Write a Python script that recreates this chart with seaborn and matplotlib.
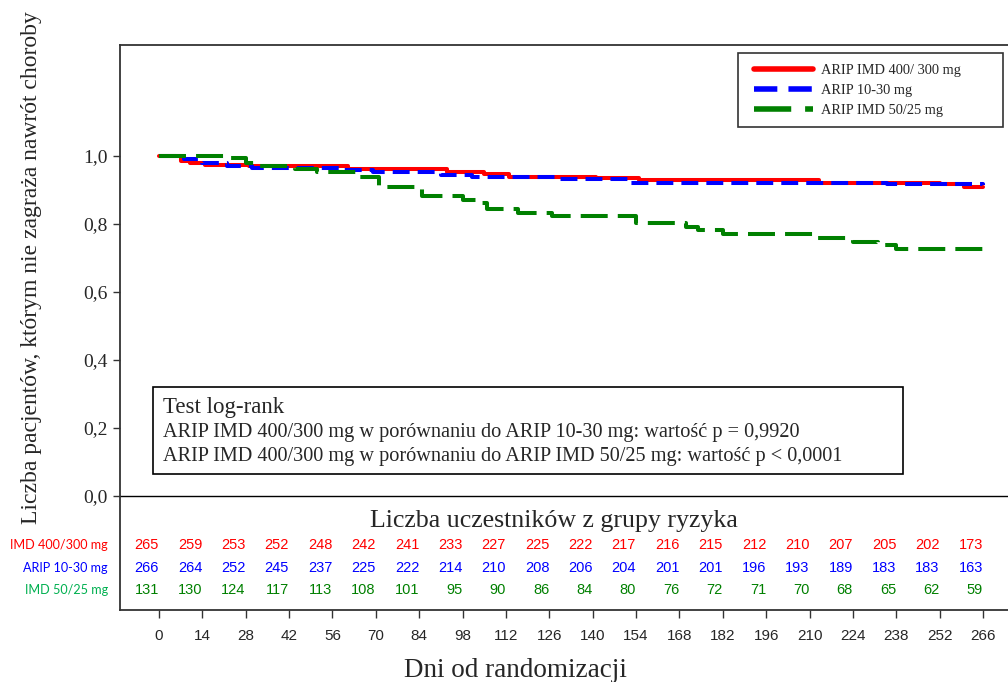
import numpy as np
import pandas as pd
import matplotlib
matplotlib.use("Agg")
import matplotlib.pyplot as plt
from matplotlib.patches import Rectangle
import seaborn as sns

# Kaplan-Meier steps (day, fraction still without relapse)
red_days = [0, 7, 10, 15, 29, 61, 93, 105, 113, 141, 155, 213, 252, 260, 266]
red_surv = [1.0, 0.985, 0.979, 0.974, 0.970, 0.961, 0.954, 0.947, 0.939, 0.936, 0.929, 0.921, 0.918, 0.908, 0.908]

blue_days = [0, 8, 14, 22, 30, 58, 69, 91, 101, 128, 152, 235, 266]
blue_surv = [1.0, 0.990, 0.978, 0.971, 0.966, 0.959, 0.952, 0.944, 0.937, 0.931, 0.922, 0.918, 0.915]

green_days = [0, 21, 28, 32, 44, 51, 64, 71, 85, 98, 104, 106, 116, 127, 154, 170, 174, 182, 211, 224, 232, 238, 266]
green_surv = [1.0, 0.995, 0.980, 0.971, 0.961, 0.952, 0.937, 0.908, 0.882, 0.871, 0.863, 0.843, 0.833, 0.824,
              0.802, 0.790, 0.782, 0.770, 0.760, 0.748, 0.737, 0.726, 0.726]

groups = ["ARIP IMD 400/ 300 mg", "ARIP 10-30 mg", "ARIP IMD 50/25 mg"]
line_colors = ["#ff0000", "#0000ff", "#008000"]

# number at risk table
risk_days = [0, 14, 28, 42, 56, 70, 84, 98, 112, 126, 140, 154, 168, 182, 196, 210, 224, 238, 252, 266]
risk_labels = ["IMD 400/300 mg", "ARIP 10-30 mg", "IMD 50/25 mg"]
risk_label_colors = ["#ff0000", "#0000ff", "#00b050"]
risk_red = [265, 259, 253, 252, 248, 242, 241, 233, 227, 225, 222, 217, 216, 215, 212, 210, 207, 205, 202, 173]
risk_blue = [266, 264, 252, 245, 237, 225, 222, 214, 210, 208, 206, 204, 201, 201, 196, 193, 189, 183, 183, 163]
risk_green = [131, 130, 124, 117, 113, 108, 101, 95, 90, 86, 84, 80, 76, 72, 71, 70, 68, 65, 62, 59]

y_ticks = [0.0, 0.2, 0.4, 0.6, 0.8, 1.0]

logrank_lines = [
    "ARIP IMD 400/300 mg w porównaniu do ARIP 10-30 mg: wartość p = 0,9920",
    "ARIP IMD 400/300 mg w porównaniu do ARIP IMD 50/25 mg: wartość p < 0,0001",
]

W, H = 1008, 682


def px(x, y):
    # pixel position (from top-left) -> figure fraction
    return x / W, 1 - y / H


sns.set_theme(style="white")
plt.rcParams["font.family"] = ["Liberation Serif", "DejaVu Serif"]
narrow = ["Liberation Sans Narrow", "Liberation Sans", "DejaVu Sans"]

df = pd.concat([
    pd.DataFrame({"day": red_days, "surv": red_surv, "group": groups[0]}),
    pd.DataFrame({"day": blue_days, "surv": blue_surv, "group": groups[1]}),
    pd.DataFrame({"day": green_days, "surv": green_surv, "group": groups[2]}),
])

fig = plt.figure(figsize=(W / 100, H / 100), dpi=100)
ax = fig.add_axes([120 / W, 1 - 610 / H, 1 - 120 / W, (610 - 45) / H])

sns.lineplot(data=df, x="day", y="surv", hue="group", style="group",
             hue_order=groups, style_order=groups,
             palette=dict(zip(groups, line_colors)),
             dashes={groups[0]: "", groups[1]: (4.2, 2.0), groups[2]: (6.7, 2.5)},
             estimator=None, drawstyle="steps-post", linewidth=2.9, ax=ax)

ax.axhline(0, color="black", lw=1)
ax.set_xlim(-12.59, 274.05)
ax.set_ylim(-0.3353, 1.3265)

ax.set_yticks(y_ticks)
ax.set_yticklabels([f"{v:.1f}".replace(".", ",") for v in y_ticks], fontsize=14)
ax.set_xticks(risk_days)
ax.set_xticklabels([str(d) for d in risk_days], fontsize=11, family=narrow)
ax.tick_params(axis="y", direction="out", length=5, width=1, color="#333333", left=True, pad=4)
ax.tick_params(axis="x", direction="out", length=6, width=1, color="#333333", bottom=True, pad=8)
ax.set_xlabel("")
ax.set_ylabel("")

for side in ["left", "top", "bottom"]:
    ax.spines[side].set_color("#333333")
    ax.spines[side].set_linewidth(1.3)
ax.spines["right"].set_visible(False)

fig.text(*px(515, 677), "Dni od randomizacji", fontsize=19.5, ha="center", va="baseline")
fig.text(*px(32, 268), "Liczba pacjentów, którym nie zagraża nawrót choroby", fontsize=17,
         rotation=90, ha="center", va="center")

# legend: lines without frame, box drawn separately
handles, labels = ax.get_legend_handles_labels()
for h in handles:
    h.set_linewidth(4)
leg = ax.legend(handles, labels, loc="upper left", bbox_to_anchor=px(742, 52),
                bbox_transform=fig.transFigure, fontsize=10.4, handlelength=4.1, handletextpad=0.6,
                labelspacing=0.5, borderpad=0.3, frameon=False)
fig.patches.append(Rectangle(px(738, 127), 265 / W, 74 / H, transform=fig.transFigure,
                             fill=False, edgecolor="#333333", linewidth=1.2))

# at-risk table
fig.text(*px(554, 527), "Liczba uczestników z grupy ryzyka", fontsize=18.6, ha="center", va="baseline")
row_y = [-0.144, -0.212, -0.276]
for vals, y, col in zip([risk_red, risk_blue, risk_green], row_y, line_colors):
    for d, n in zip(risk_days, vals):
        ax.text(d, y, str(n), color=col, fontsize=10.5, family=narrow, ha="right", va="center")
for lab, y, col in zip(risk_labels, row_y, risk_label_colors):
    fig.text(*px(108, 496 - y * 340), lab, color=col, fontsize=9.1,
             family=["Lato", "DejaVu Sans"], ha="right", va="center")

# log-rank box
fig.patches.append(Rectangle(px(153, 474), 750 / W, 87 / H, transform=fig.transFigure,
                             fill=False, edgecolor="black", linewidth=1.2))
fig.text(*px(163, 408), "Test log-rank", fontsize=16.5, va="center")
fig.text(*px(163, 433), logrank_lines[0], fontsize=14.6, va="center")
fig.text(*px(163, 456), logrank_lines[1], fontsize=14.6, va="center")

fig.savefig("out.png", dpi=100)
